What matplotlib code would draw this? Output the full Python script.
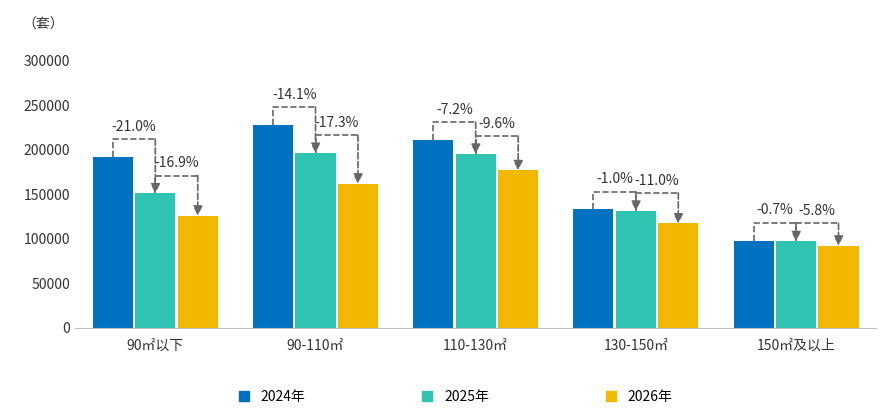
import matplotlib
matplotlib.use("Agg")
import matplotlib.pyplot as plt
from matplotlib.lines import Line2D
import numpy as np

plt.rcParams['font.family'] = ['Noto Sans CJK SC', 'DejaVu Sans']

categories = ['90㎡以下', '90-110㎡', '110-130㎡', '130-150㎡', '150㎡及以上']
series_names = ['2024年', '2025年', '2026年']
v2024 = [192000, 228000, 211000, 133000, 98000]
v2025 = [151000, 196500, 195500, 131500, 97300]
v2026 = [126000, 162000, 177000, 117200, 92300]
chg1 = ['-21.0%', '-14.1%', '-7.2%', '-1.0%', '-0.7%']
chg2 = ['-16.9%', '-17.3%', '-9.6%', '-11.0%', '-5.8%']
colors = ['#0070C0', '#2EC4B1', '#F2B800']

fig = plt.figure(figsize=(8.85, 4.16), dpi=100)
ax = fig.add_axes([0.085, 0.212, 0.905, 0.642])
x = np.arange(len(categories))
step = 0.265
w = 0.25
data = [v2024, v2025, v2026]
for i, (vals, c) in enumerate(zip(data, colors)):
    ax.bar(x + (i - 1) * step, vals, width=w, color=c)

off = 20000
for g in range(len(categories)):
    for k, lab in enumerate([chg1, chg2]):
        xa = x[g] + (k - 1) * step
        xb = x[g] + k * step
        ya = data[k][g]
        yb = data[k + 1][g]
        top = ya + off
        ax.plot([xa, xa, xb], [ya, top, top], ls='--', color='#666666', lw=1.2)
        ax.annotate('', xy=(xb, yb), xytext=(xb, top),
                    arrowprops=dict(arrowstyle='-|>', color='#666666', lw=1.2,
                                    ls='--', mutation_scale=14, shrinkA=0, shrinkB=0))
        ax.text((xa + xb) / 2, top + 6000, lab[g], ha='center', va='bottom',
                fontsize=10, color='#333333')

ax.set_ylim(0, 300000)
ax.set_xlim(-0.5, 4.5)
ax.set_yticks(range(0, 300001, 50000))
ax.set_xticks(x)
ax.set_xticklabels(categories, fontsize=10, color='#333333')
ax.tick_params(axis='y', labelsize=10, colors='#333333', length=0)
ax.tick_params(axis='x', length=0, pad=8)
for s in ['top', 'right', 'left']:
    ax.spines[s].set_visible(False)
ax.spines['bottom'].set_color('#bfbfbf')
fig.text(0.025, 0.93, '（套）', fontsize=10, color='#333333')

handles = [Line2D([], [], marker='s', ls='', color=c, markersize=7) for c in colors]
fig.legend(handles, series_names, loc='lower center', ncol=3, frameon=False,
           bbox_to_anchor=(0.51, 0.0), fontsize=10, columnspacing=7.8, handletextpad=0.2)
fig.savefig('out.png', dpi=100)
